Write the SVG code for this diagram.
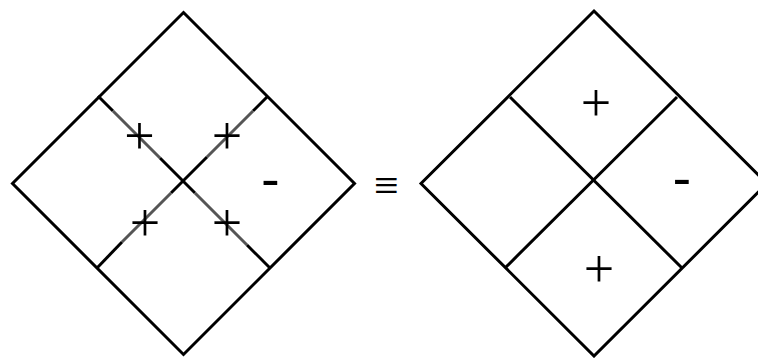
<svg xmlns="http://www.w3.org/2000/svg" width="758" height="358" viewBox="0 0 758 358">
<style>
.edge{fill:none;stroke:#000;stroke-width:3;stroke-linecap:butt}
.gray{fill:none;stroke:#555;stroke-width:3;stroke-linecap:butt}
.plus{font-family:"Liberation Serif",serif;font-size:54px;text-anchor:middle;fill:#000}
.minus{font-family:"DejaVu Sans",sans-serif;font-size:52px;text-anchor:middle;fill:#000}
.eq{font-family:"Liberation Serif",serif;font-size:44px;text-anchor:middle;fill:#000}
</style>
<rect width="758" height="358" fill="#fff"/>
<g id="left-diamond">
<polygon class="edge" points="183.5,12.5 354.5,183.5 183.5,354.5 12.5,183.5"/>
</g>
<g id="connectors">
<line class="edge" x1="98" y1="96" x2="113" y2="111"/>
<line class="gray" x1="113" y1="111" x2="160" y2="158"/>
<line class="edge" x1="160" y1="158" x2="195" y2="193"/>
<line class="gray" x1="195" y1="193" x2="247" y2="245"/>
<line class="edge" x1="247" y1="245" x2="270" y2="268"/>
<line class="edge" x1="268" y1="96" x2="253" y2="111"/>
<line class="gray" x1="253" y1="111" x2="207" y2="157"/>
<line class="edge" x1="207" y1="157" x2="171" y2="193"/>
<line class="gray" x1="171" y1="193" x2="122" y2="242"/>
<line class="edge" x1="122" y1="242" x2="97" y2="268"/>
<line class="edge" x1="510" y1="97" x2="682" y2="268"/>
<line class="edge" x1="677" y1="97" x2="506" y2="267"/>
</g>
<g id="left-labels">
<text class="plus" x="139.5" y="153.5">+</text>
<text class="plus" x="227" y="153.5">+</text>
<text class="plus" x="145" y="240.5">+</text>
<text class="plus" x="227" y="240.5">+</text>
<text class="minus" x="270.5" y="197">-</text>
</g>
<g id="equiv">
<text class="eq" x="386.5" y="200">≡</text>
</g>
<g id="right-diamond">
<polygon class="edge" points="594,11 767,183.5 594,356 421,183.5"/>
</g>
<g id="right-labels">
<text class="plus" x="596" y="120.5">+</text>
<text class="plus" x="599" y="286.5">+</text>
<text class="minus" x="682" y="195.7">-</text>
</g>
</svg>
